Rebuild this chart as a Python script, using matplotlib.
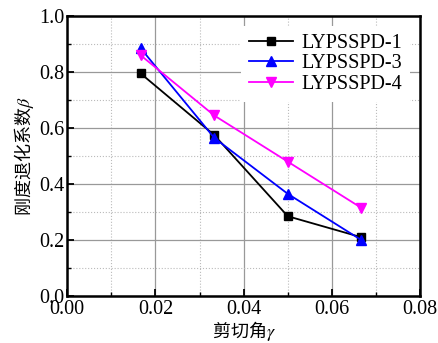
import matplotlib
matplotlib.use('Agg')
import matplotlib.pyplot as plt
from matplotlib.ticker import MultipleLocator, FormatStrFormatter

gamma = [1/60., 1/30., 0.05, 1/15.]
beta1 = [0.795, 0.575, 0.285, 0.21]
beta3 = [0.885, 0.565, 0.365, 0.20]
beta4 = [0.86, 0.645, 0.48, 0.315]
labels = ['LYPSSPD-1', 'LYPSSPD-3', 'LYPSSPD-4']

plt.rcParams['font.family'] = ['Liberation Serif', 'Noto Sans CJK SC']
plt.rcParams['mathtext.fontset'] = 'stix'

fig = plt.figure(figsize=(4.39, 3.43), dpi=100)
ax = fig.add_axes([0.153, 0.137, 0.804, 0.816])

ax.plot(gamma, beta1, color='black', marker='s', ms=6, lw=1.3, label=labels[0])
ax.plot(gamma, beta3, color='blue', marker='^', ms=7, lw=1.3, label=labels[1])
ax.plot(gamma, beta4, color='magenta', marker='v', ms=7, lw=1.3, label=labels[2])

ax.set_xlim(0, 0.08)
ax.set_ylim(0, 1.0)
ax.xaxis.set_major_locator(MultipleLocator(0.02))
ax.xaxis.set_minor_locator(MultipleLocator(0.01))
ax.yaxis.set_major_locator(MultipleLocator(0.2))
ax.yaxis.set_minor_locator(MultipleLocator(0.1))
ax.xaxis.set_major_formatter(FormatStrFormatter('%.2f'))
ax.yaxis.set_major_formatter(FormatStrFormatter('%.1f'))

ax.grid(which='major', color='#999999', lw=0.9, ls='-')
ax.grid(which='minor', color='#bbbbbb', lw=0.8, ls=':')
ax.set_axisbelow(True)

ax.tick_params(which='both', direction='in', top=False, right=False, labelsize=14.5)
ax.tick_params(axis='x', which='major', pad=3)
ax.tick_params(axis='y', which='major', pad=2)
ax.tick_params(which='major', length=5, width=1.3)
ax.tick_params(which='minor', length=3, width=1.0)
for s in ax.spines.values():
    s.set_linewidth(1.8)

ax.set_xlabel('剪切角$\\gamma$', fontsize=13, family='Noto Sans CJK SC', labelpad=0)
ax.set_ylabel('刚度退化系数$\\beta$', fontsize=13, family='Noto Sans CJK SC', labelpad=2)

leg = ax.legend(loc='upper right', fontsize=14.5, frameon=True, fancybox=False,
                handlelength=2.2, borderaxespad=0.5, labelspacing=0.05, handletextpad=0.4)
leg.get_frame().set_edgecolor('none')
leg.get_frame().set_alpha(1.0)

fig.savefig('out.png', dpi=100)
